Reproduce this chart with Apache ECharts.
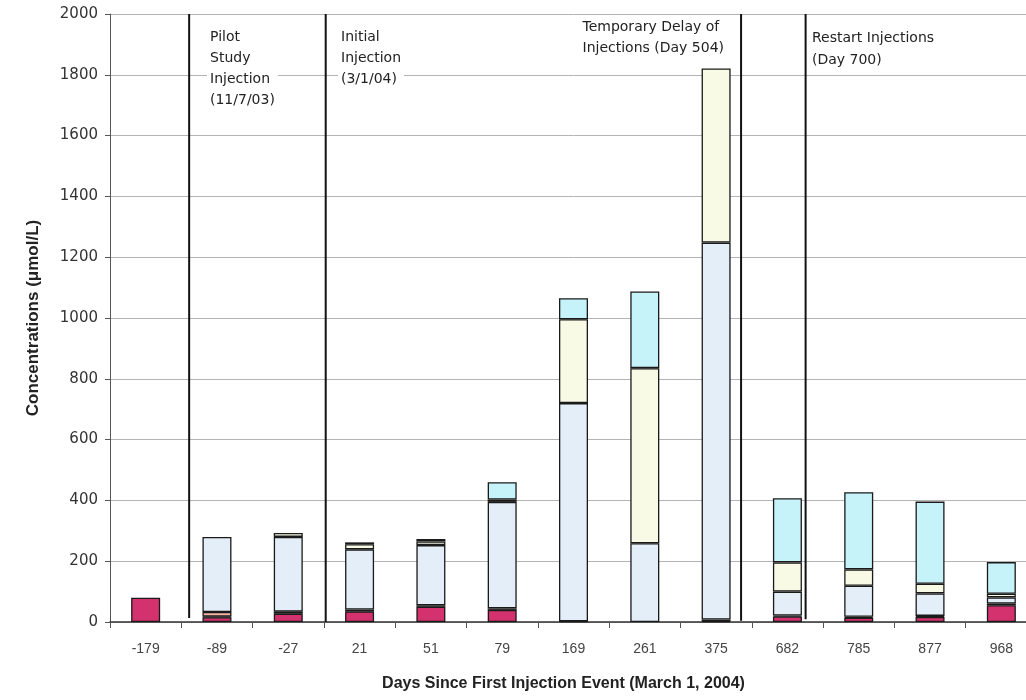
<!DOCTYPE html>
<html>
<head>
<meta charset="utf-8">
<script src="https://cdn.jsdelivr.net/npm/echarts@6.0.0/dist/echarts.min.js"></script>
<style>
  html, body { margin: 0; padding: 0; background: #ffffff; overflow: hidden; }
  /* the plot area runs slightly past the right edge of the window */
  #chart { width: 1040px; height: 700px; }
</style>
</head>
<body>
<div id="chart"></div>
<script>
// Sampling events, in days since the first injection (March 1, 2004)
const days = ['-179', '-89', '-27', '21', '51', '79', '169', '261', '375', '682', '785', '877', '968'];

// Stacked concentration components (umol/L), bottom to top
const crimsonPart = [80, 16, 27, 35, 50, 40, null, null, 3, 18, 14, 17, 55];
const darkPart    = [null, 2, 7, 6, 5, 5, 2, null, 5, 3, 3, 3, 6];
const peachPart   = [null, 15, null, null, null, null, null, null, null, null, null, null, null];
const bluePart    = [null, 247, 246, 198, 198, 350, 718, 259, 1240, 79, 102, 74, 20];
const yellowPart  = [null, null, 13, 17, 12, 8, 276, 576, 573, 96, 54, 32, 12];
const cyanPart    = [null, null, null, 6, 8, 57, 69, 252, null, 211, 254, 270, 104];

// Event markers, placed in category units along the day axis
const eventPos    = [0.61, 2.525, 8.35, 9.255];
const eventBottom = [13, 0, 4, 9];

const yTicks = { min: 0, max: 2000, interval: 200 };

const segments = [
  { name: 'crimson', data: crimsonPart, color: '#d4326e' },
  { name: 'dark',    data: darkPart,    color: '#3a3040' },
  { name: 'peach',   data: peachPart,   color: '#f6b3a3' },
  { name: 'blue',    data: bluePart,    color: '#e4eef8' },
  { name: 'yellow',  data: yellowPart,  color: '#f8fae6' },
  { name: 'cyan',    data: cyanPart,    color: '#c6f2f9' }
];

const barSeries = segments.map(s => ({
  name: s.name,
  type: 'bar',
  stack: 'total',
  xAxisIndex: 0,
  yAxisIndex: 0,
  barWidth: 29,
  data: s.data,
  itemStyle: { color: s.color, borderColor: '#1a1a1a', borderWidth: 1.3 },
  emphasis: { disabled: true },
  silent: true
}));

const eventSeries = eventPos.map((p, i) => ({
  type: 'line',
  xAxisIndex: 1,
  yAxisIndex: 0,
  data: [[p, eventBottom[i]], [p, yTicks.max]],
  symbol: 'none',
  lineStyle: { color: '#111111', width: 2 },
  silent: true,
  z: 5
}));

const noteStyle = {
  fontFamily: 'DejaVu Sans, Liberation Sans, Arial, sans-serif',
  fontSize: 14,
  lineHeight: 21,
  fill: '#222222',
  backgroundColor: '#ffffff',
  padding: [0, 3]
};

const chart = echarts.init(document.getElementById('chart'), null, { renderer: 'canvas' });
chart.setOption({
  animation: false,
  backgroundColor: '#ffffff',
  grid: { left: 110, right: 3, top: 14, bottom: 78, containLabel: false },
  xAxis: [
    {
      type: 'category',
      data: days,
      boundaryGap: true,
      name: 'Days Since First Injection Event (March 1, 2004)',
      nameLocation: 'middle',
      nameGap: 54,
      nameTextStyle: {
        fontFamily: 'Liberation Sans, Arial, sans-serif',
        fontWeight: 'bold',
        fontSize: 16,
        color: '#222222',
        padding: [0, 20, 0, 0]
      },
      axisLine: { lineStyle: { color: '#333333', width: 1.5 } },
      axisTick: { show: true, interval: 0, length: 6, lineStyle: { color: '#555555' } },
      axisLabel: { interval: 0, margin: 20, fontFamily: 'Liberation Sans, Arial, sans-serif', fontSize: 14, color: '#444444' },
      splitLine: { show: false }
    },
    {
      type: 'value',
      min: -0.5,
      max: 12.5,
      show: false
    }
  ],
  yAxis: {
    type: 'value',
    min: yTicks.min,
    max: yTicks.max,
    interval: yTicks.interval,
    name: 'Concentrations (\u03bcmol/L)',
    nameLocation: 'middle',
    nameGap: 68,
    nameTextStyle: { fontFamily: 'Liberation Sans, Arial, sans-serif', fontWeight: 'bold', fontSize: 17, color: '#222222' },
    axisLine: { show: true, onZero: false, lineStyle: { color: '#555555', width: 1 } },
    axisTick: { show: true, length: 5, lineStyle: { color: '#555555' } },
    axisLabel: {
      margin: 12,
      fontFamily: 'DejaVu Sans, Liberation Sans, Arial, sans-serif',
      fontSize: 15,
      color: '#333333',
      formatter: v => String(v)
    },
    splitLine: { show: true, lineStyle: { color: '#b4b4b4', width: 1 } }
  },
  series: barSeries.concat(eventSeries),
  graphic: [
    { type: 'text', left: 207, top: 27, z: 10, style: Object.assign({ text: 'Pilot\nStudy\nInjection\n(11/7/03)' }, noteStyle) },
    { type: 'text', left: 338, top: 27, z: 10, style: Object.assign({ text: 'Initial\nInjection\n(3/1/04)' }, noteStyle) },
    { type: 'text', right: 1040 - 727, top: 17, z: 10, style: Object.assign({ text: 'Temporary Delay of\nInjections (Day 504)', align: 'right' }, noteStyle) },
    { type: 'text', left: 809, top: 27, z: 10, style: Object.assign({ text: 'Restart Injections\n(Day 700)' }, noteStyle, { lineHeight: 22 }) }
  ]
});
</script>
</body>
</html>
